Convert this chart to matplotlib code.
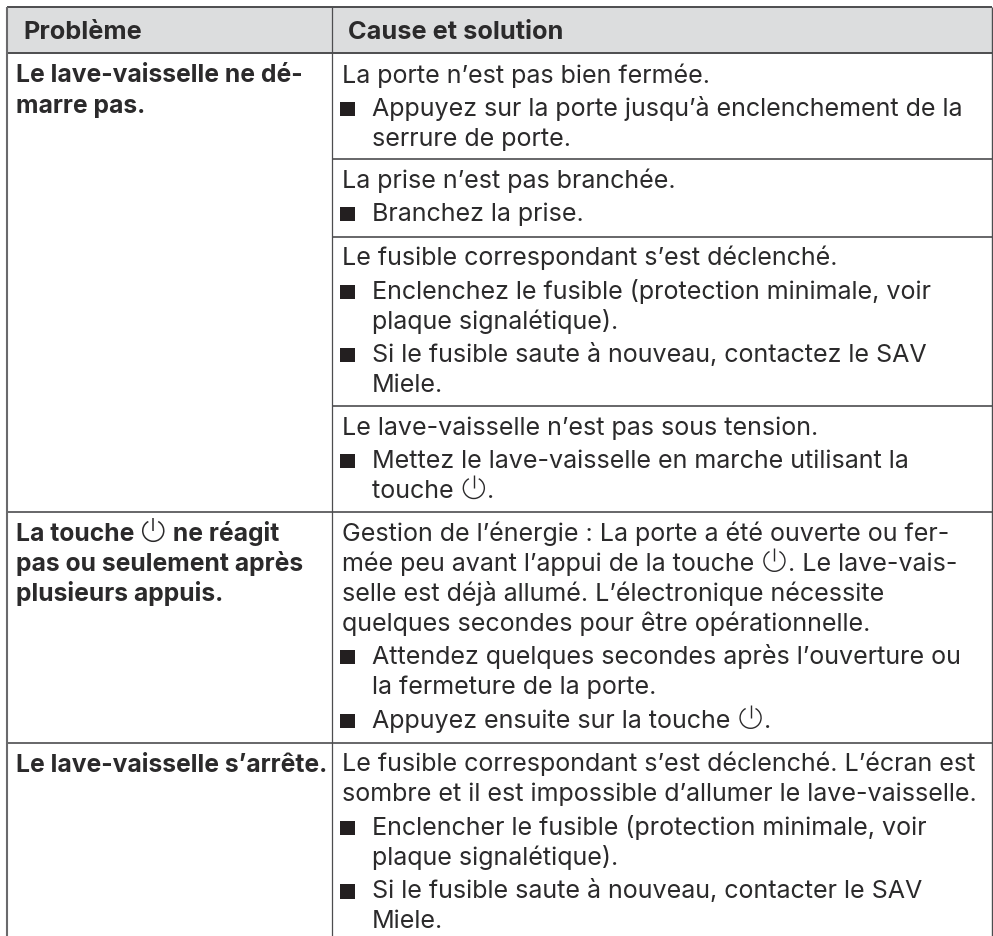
import matplotlib
matplotlib.use("Agg")
import matplotlib.pyplot as plt
from matplotlib.patches import Arc, Rectangle

W, H = 993, 936
FONT = "Inter"
FS = 18.05
FS_B = 17.75
FS_H = 18.25
TEXT = "#2b2a2b"
LINE = "#4d4d4f"
POWER = "@"

headers = ["Problème", "Cause et solution"]
problem_1 = ["Le lave-vaisselle ne dé-", "marre pas."]
problem_2 = ["La touche @ ne réagit", "pas ou seulement après", "plusieurs appuis."]
problem_3 = ["Le lave-vaisselle s’arrête."]

# (kind, text): p = plain line, b = bullet first line, c = bullet continuation
cell_1 = [("p", "La porte n’est pas bien fermée."),
          ("b", "Appuyez sur la porte jusqu’à enclenchement de la"),
          ("c", "serrure de porte.")]
cell_2 = [("p", "La prise n’est pas branchée."),
          ("b", "Branchez la prise.")]
cell_3 = [("p", "Le fusible correspondant s’est déclenché."),
          ("b", "Enclenchez le fusible (protection minimale, voir"),
          ("c", "plaque signalétique)."),
          ("b", "Si le fusible saute à nouveau, contactez le SAV"),
          ("c", "Miele.")]
cell_4 = [("p", "Le lave-vaisselle n’est pas sous tension."),
          ("b", "Mettez le lave-vaisselle en marche utilisant la"),
          ("c", "touche @.")]
cell_5 = [("p", "Gestion de l’énergie : La porte a été ouverte ou fer-"),
          ("p", "mée peu avant l’appui de la touche @. Le lave-vais-"),
          ("p", "selle est déjà allumé. L’électronique nécessite"),
          ("p", "quelques secondes pour être opérationnelle."),
          ("b", "Attendez quelques secondes après l’ouverture ou"),
          ("c", "la fermeture de la porte."),
          ("b", "Appuyez ensuite sur la touche @.")]
cell_6 = [("p", "Le fusible correspondant s’est déclenché. L’écran est"),
          ("p", "sombre et il est impossible d’allumer le lave-vaisselle."),
          ("b", "Enclencher le fusible (protection minimale, voir"),
          ("c", "plaque signalétique)."),
          ("b", "Si le fusible saute à nouveau, contacter le SAV"),
          ("c", "Miele.")]

rows = [(problem_1, cell_1), (None, cell_2), (None, cell_3), (None, cell_4),
        (problem_2, cell_5), (problem_3, cell_6)]
row_tops = [52.5, 159, 236.7, 405.7, 512, 742.7]

X_L, X_M, X_R = 6.5, 331.7, 992
Y_T = 7
LH = 30.0
LH_BULLET = 33.5
PAD_TOP = 28.8

fig = plt.figure(figsize=(W / 100, H / 100), dpi=100, facecolor="white")
ax = fig.add_axes([0, 0, 1, 1])
ax.set_xlim(0, W)
ax.set_ylim(H, 0)
ax.axis("off")
rend = fig.canvas.get_renderer()


def power(x, base, weight):
    """Draw the power symbol, return the advance width."""
    d = 21.0
    cx, cy = x + 3 + d / 2, base - d / 2 + 0.5
    lw = 1.0 if weight == "normal" else 1.1
    ax.add_patch(Arc((cx, cy), d, d, theta1=-62, theta2=242, color=TEXT, lw=lw))
    ax.plot([cx, cx], [cy - d * 0.62, cy], color=TEXT, lw=lw, solid_capstyle="butt")
    return d + 6


def put(x, base, s, weight="normal", size=FS):
    parts = s.split(POWER)
    for i, part in enumerate(parts):
        if part:
            ax.text(x, base, part, family=FONT, fontsize=size, weight=weight, color=TEXT,
                    va="baseline", ha="left")
            probe = ax.text(0, 0, part + "|", family=FONT, fontsize=size, weight=weight)
            bar = ax.text(0, 0, "|", family=FONT, fontsize=size, weight=weight)
            w = probe.get_window_extent(rend).width - bar.get_window_extent(rend).width
            probe.remove()
            bar.remove()
            x += w
        if i < len(parts) - 1:
            x += power(x, base, weight)


# header band
ax.add_patch(Rectangle((X_L, Y_T), X_R - X_L, row_tops[0] - Y_T, facecolor="#dcddde", edgecolor="none"))
put(23.3, 39, headers[0], "bold", FS_H)
put(348, 39, headers[1], "bold", FS_H)

# body rows
for r, (prob, cell) in enumerate(rows):
    first = row_tops[r] + (30.0 if r == 0 else PAD_TOP)
    if prob:
        for j, s in enumerate(prob):
            put(15.5, first + j * LH, s, "bold", FS_B)
    base = first
    for j, (kind, s) in enumerate(cell):
        if j:
            base += LH_BULLET if kind == "b" else LH
        if kind == "p":
            put(341.7, base, s)
        elif kind == "c":
            put(371.7, base, s)
        else:
            ax.add_patch(Rectangle((340.4, base - 14.2), 14.7, 14.2, facecolor="#231f20", edgecolor="none"))
            put(371.7, base, s)

# rules
for i, yy in enumerate(row_tops[1:]):
    full = i >= 3
    ax.plot([X_L if full else X_M, X_R], [yy, yy], color=LINE, lw=1.2, solid_capstyle="butt")
ax.plot([X_L, X_R], [row_tops[0], row_tops[0]], color=LINE, lw=1.4, solid_capstyle="butt")
ax.plot([X_L, X_R], [Y_T, Y_T], color=LINE, lw=1.4, solid_capstyle="butt")
ax.plot([X_L, X_L], [Y_T, H], color="#6a6a6c", lw=1.5, solid_capstyle="butt")
ax.plot([X_R, X_R], [Y_T, H], color=LINE, lw=1.0, solid_capstyle="butt")
ax.plot([X_M, X_M], [Y_T, H], color=LINE, lw=0.9, solid_capstyle="butt")

fig.savefig("out.png", dpi=100)
